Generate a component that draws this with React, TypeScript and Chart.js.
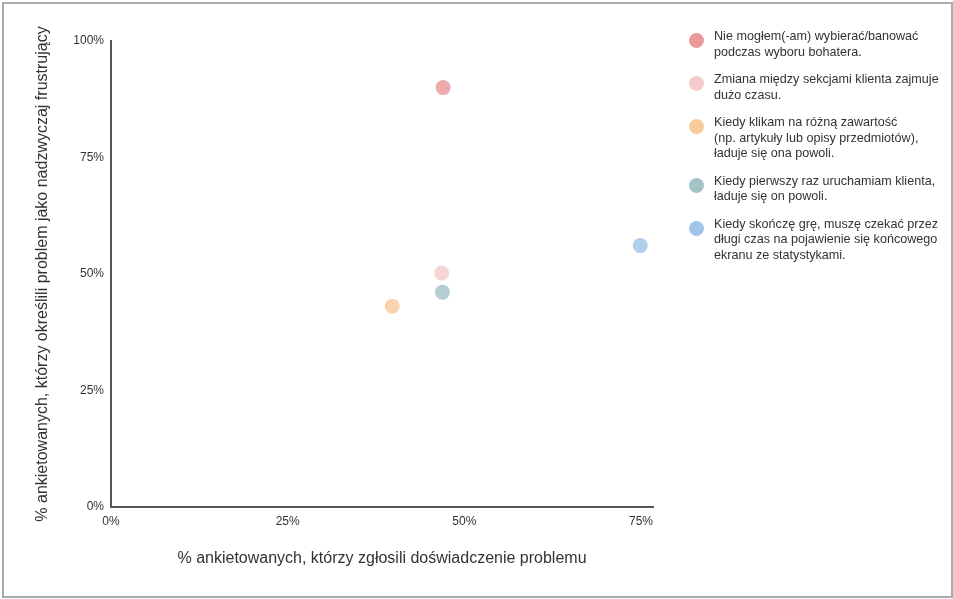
import React, { useEffect, useRef } from "react";
import { Chart, registerables } from "chart.js";

Chart.register(...registerables);

const SERIES_LABELS: string[][] = [
  ["Nie mogłem(-am) wybierać/banować", "podczas wyboru bohatera."],
  ["Zmiana między sekcjami klienta zajmuje", "dużo czasu."],
  ["Kiedy klikam na różną zawartość", "(np. artykuły lub opisy przedmiotów),", "ładuje się ona powoli."],
  ["Kiedy pierwszy raz uruchamiam klienta,", "ładuje się on powoli."],
  ["Kiedy skończę grę, muszę czekać przez", "długi czas na pojawienie się końcowego", "ekranu ze statystykami."],
];
const SERIES_COLORS = ["#EA9999", "#F4CCCC", "#F9CB9C", "#A2C4C9", "#9FC5E8"];
const POINT_COLORS = [
  "rgba(234,153,153,0.82)",
  "rgba(244,204,204,0.82)",
  "rgba(249,203,156,0.82)",
  "rgba(162,196,201,0.82)",
  "rgba(159,197,232,0.82)",
];
const X_VALUES = [0.47, 0.468, 0.398, 0.469, 0.749];
const Y_VALUES = [0.9, 0.502, 0.431, 0.461, 0.561];
const X_TICKS = [0, 0.25, 0.5, 0.75];
const Y_TICKS = [0, 0.25, 0.5, 0.75, 1];
const X_TITLE = "% ankietowanych, którzy zgłosili doświadczenie problemu";
const Y_TITLE = "% ankietowanych, którzy określili problem jako nadzwyczaj frustrujący";

const FONT = "'Liberation Sans', Arial, sans-serif";

export default function App() {
  const ref = useRef<HTMLCanvasElement | null>(null);

  useEffect(() => {
    document.body.style.margin = "0";
    const canvas = ref.current;
    if (!canvas) return;
    const chart = new Chart(canvas, {
      type: "scatter",
      data: {
        datasets: SERIES_LABELS.map((lab, i) => ({
          label: lab.join(" "),
          data: [{ x: X_VALUES[i], y: Y_VALUES[i] }],
          backgroundColor: POINT_COLORS[i],
          borderWidth: 0,
          pointRadius: 7.5,
        })),
      },
      options: {
        responsive: false,
        animation: false,
        layout: { padding: { left: 0, top: 41, right: 300, bottom: 0 } },
        plugins: { legend: { display: false }, tooltip: { enabled: false } },
        scales: {
          x: {
            type: "linear",
            min: 0,
            max: 0.767,
            afterBuildTicks: (s: any) => {
              s.ticks = X_TICKS.map((v) => ({ value: v }));
            },
            afterFit: (s: any) => {
              s.height = 92;
            },
            grid: { display: true, drawOnChartArea: false, drawTicks: false },
            border: { display: true, color: "#555555", width: 2 },
            ticks: {
              padding: 7,
              color: "#333333",
              font: { family: FONT, size: 12 },
              callback: (v: any) => `${Math.round(Number(v) * 100)}%`,
            },
            title: {
              display: true,
              text: X_TITLE,
              color: "#333333",
              font: { family: FONT, size: 16 },
              padding: { top: 0, bottom: 31 },
            },
          },
          y: {
            type: "linear",
            min: 0,
            max: 1,
            afterBuildTicks: (s: any) => {
              s.ticks = Y_TICKS.map((v) => ({ value: v }));
            },
            afterFit: (s: any) => {
              s.width = 111;
            },
            grid: { display: true, drawOnChartArea: false, drawTicks: false },
            border: { display: true, color: "#555555", width: 2 },
            ticks: {
              padding: 7,
              color: "#333333",
              font: { family: FONT, size: 12 },
              callback: (v: any) => `${Math.round(Number(v) * 100)}%`,
            },
            title: {
              display: true,
              text: Y_TITLE,
              color: "#333333",
              font: { family: FONT, size: 16 },
              padding: { top: 33, bottom: 0 },
            },
          },
        },
      },
    });
    return () => chart.destroy();
  }, []);

  return (
    <div style={{ position: "absolute", left: 0, top: 0, width: 953, height: 599, background: "#fff" }}>
      <canvas ref={ref} width={953} height={599} style={{ position: "absolute", left: 0, top: 0 }} />
      <div
        style={{
          position: "absolute",
          left: 2,
          top: 2,
          width: 947,
          height: 592,
          border: "2px solid #ababab",
          pointerEvents: "none",
        }}
      />
      <div style={{ position: "absolute", left: 689, top: 29, width: 260, fontFamily: FONT, fontSize: 12.6, color: "#333" }}>
        {SERIES_LABELS.map((lines, i) => (
          <div key={i} style={{ display: "flex", alignItems: "flex-start", marginBottom: 12 }}>
            <span
              style={{
                width: 15,
                height: 15,
                borderRadius: "50%",
                background: SERIES_COLORS[i],
                flex: "none",
                marginTop: 4,
                marginRight: 10,
              }}
            />
            <div style={{ lineHeight: "15.5px" }}>
              {lines.map((l, j) => (
                <div key={j}>{l}</div>
              ))}
            </div>
          </div>
        ))}
      </div>
    </div>
  );
}
